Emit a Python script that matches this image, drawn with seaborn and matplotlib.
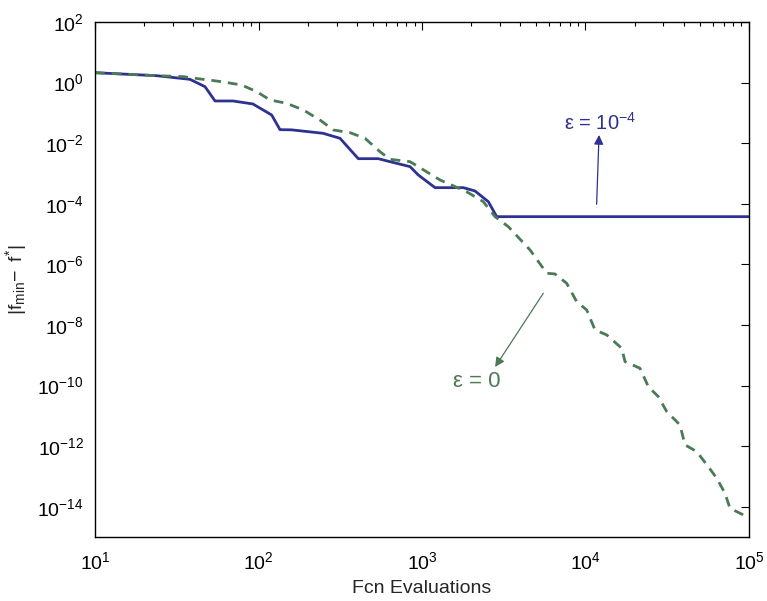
import matplotlib
matplotlib.use("Agg")
import matplotlib.pyplot as plt
import matplotlib.ticker as mticker
import numpy as np
import pandas as pd
import seaborn as sns

# ---------------- data ----------------
# eps = 1e-4 run (solid blue)
evals_tol = [10, 23.8, 38.1, 47.1, 54.2, 69.8, 92.4, 120.4, 135.3, 159.5, 247.9, 315,
             407.6, 540, 637, 845, 949, 1202, 1791, 2110, 2545, 2864, 100000]
err_tol = [2.12, 1.69, 1.28, 0.73, 0.247, 0.247, 0.197, 0.085, 0.0279, 0.0275, 0.0212, 0.0145,
           0.00308, 0.00308, 0.00245, 0.00168, 0.00089, 0.00034, 0.00034, 0.000264, 0.000117,
           3.75e-5, 3.75e-5]

# eps = 0 run (dashed green)
evals_zero = [10, 23.8, 34.7, 43.8, 59.6, 78.9, 97.5, 117.5, 148.6, 187.8, 237.7, 286.8,
              363, 448, 553, 637, 845, 1289, 1875, 2371, 2798, 3375, 4581, 5796, 6506,
              7669, 8830, 10170, 11430, 13480, 16650, 17450, 21540, 24220, 27880, 31400,
              37840, 40610, 47880, 56370, 63500, 71290, 76500, 96900, 100000]
err_zero = [2.12, 1.69, 1.57, 1.32, 1.07, 0.83, 0.50, 0.267, 0.207, 0.125, 0.058, 0.0273,
            0.0222, 0.0145, 0.00524, 0.00294, 0.00245, 0.00061, 0.00025, 0.000117, 3.75e-5,
            1.75e-5, 2.98e-6, 5.08e-7, 4.82e-7, 2.38e-7, 5.87e-8, 3.13e-8, 6.84e-9, 4.68e-9,
            1.70e-9, 6.15e-10, 3.72e-10, 9.2e-11, 4.3e-11, 1.38e-11, 5.0e-12, 1.1e-12, 6.6e-13,
            2.1e-13, 8.7e-14, 2.8e-14, 8.9e-15, 4.7e-15, 4.2e-15]

blue = "#2e3192"
green = "#4a7a56"

sns.set_style("white")
plt.rcParams["font.family"] = ["Liberation Sans", "DejaVu Sans"]
plt.rcParams["mathtext.fontset"] = "custom"
plt.rcParams["mathtext.rm"] = "Liberation Sans"
plt.rcParams["mathtext.it"] = "Liberation Sans:italic"
plt.rcParams["mathtext.bf"] = "Liberation Sans:bold"

fig = plt.figure(figsize=(7.67, 6.01), dpi=100)
ax = fig.add_axes([0.1239, 0.1065, 0.9765 - 0.1239, 0.9634 - 0.1065])

df_tol = pd.DataFrame({"evals": evals_tol, "err": err_tol})
df_zero = pd.DataFrame({"evals": evals_zero, "err": err_zero})

sns.lineplot(data=df_tol, x="evals", y="err", ax=ax, color=blue, lw=2.0,
             estimator=None, sort=False)
sns.lineplot(data=df_zero, x="evals", y="err", ax=ax, color=green, lw=2.0,
             estimator=None, sort=False)
ax.lines[1].set_linestyle((0, (3.5, 2.5)))

ax.set_xscale("log")
ax.set_yscale("log")
ax.set_xlim(10, 1e5)
ax.set_ylim(1e-15, 1e2)

ax.yaxis.set_major_locator(mticker.FixedLocator([10.0 ** k for k in range(-14, 3, 2)]))
ax.yaxis.set_minor_locator(mticker.NullLocator())
ax.xaxis.set_major_locator(mticker.LogLocator(base=10, numticks=10))
ax.xaxis.set_minor_locator(mticker.LogLocator(base=10, subs=np.arange(2, 10), numticks=20))
ax.xaxis.set_minor_formatter(mticker.NullFormatter())

ax.tick_params(which="both", direction="in", top=True, right=True, labelsize=14,
               colors="black", width=0.8)
ax.tick_params(which="major", length=6, pad=8)
ax.tick_params(axis="x", which="major", pad=10)
ax.tick_params(which="minor", length=3)
for s in ax.spines.values():
    s.set_color("black")
    s.set_linewidth(1.0)

ax.set_xlabel("Fcn Evaluations", fontsize=14, labelpad=5)
ax.set_ylabel(r"$|\mathrm{f_{min}}\!-\ \mathrm{f^{*}}|$", fontsize=14, labelpad=6)

# annotation arrows + labels
ax.annotate("", xy=(12100, 0.0187), xytext=(11700, 9.6e-5),
            arrowprops=dict(arrowstyle="-|>", color=blue, lw=0.9, shrinkA=0, shrinkB=0,
                            mutation_scale=14))
ax.text(12300, 0.046, "ε = 10$^{-4}$", color=blue, fontsize=14.5, ha="center", va="center")

ax.annotate("", xy=(2800, 4.1e-10), xytext=(5520, 1.11e-7),
            arrowprops=dict(arrowstyle="-|>", color=green, lw=0.9, shrinkA=0, shrinkB=0,
                            mutation_scale=14))
ax.text(2163, 1.35e-10, "ε = 0", color=green, fontsize=16, ha="center", va="center")

fig.savefig("out.png", dpi=100)
